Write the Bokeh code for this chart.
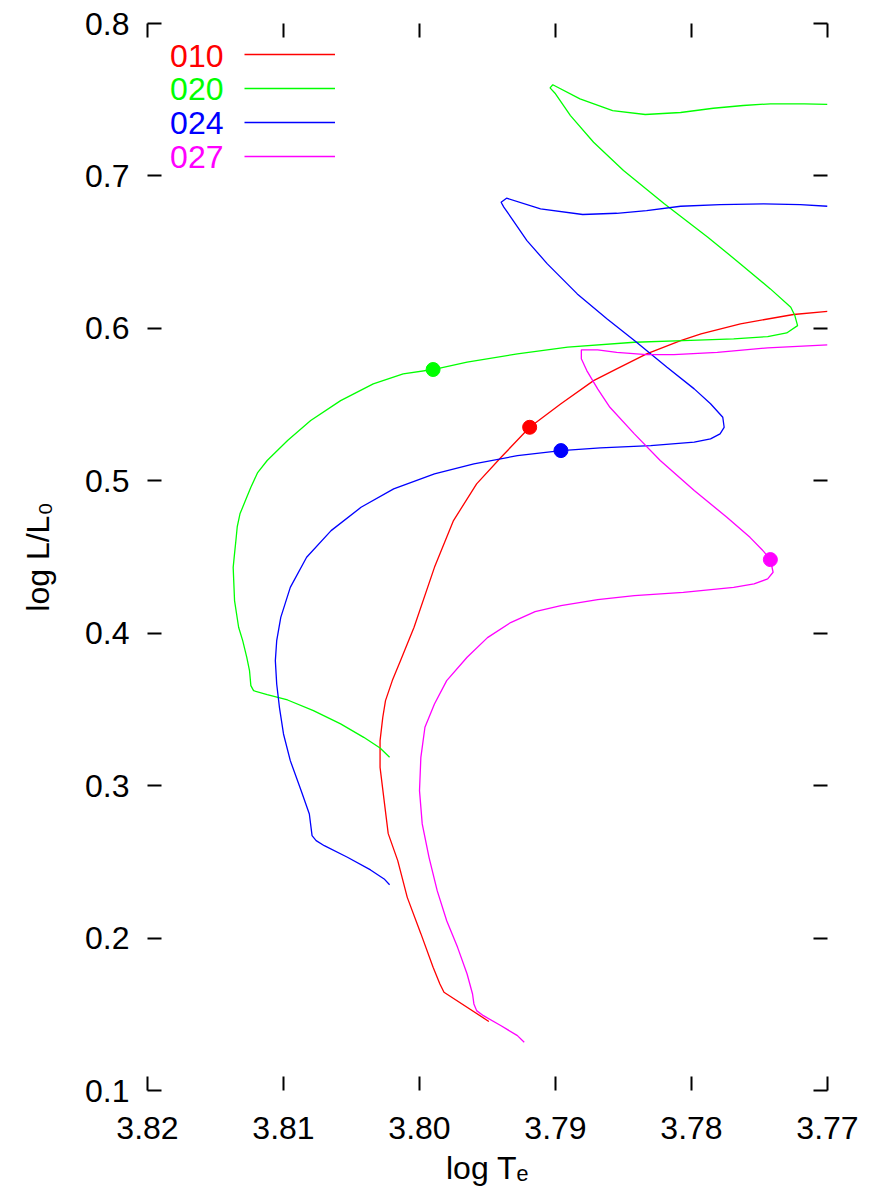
from bokeh.plotting import figure
from bokeh.models import (Range1d, FixedTicker, LinearAxis, NumeralTickFormatter, Label,
                          Legend, LegendItem)
from bokeh.embed import file_html
from bokeh.resources import INLINE

# ---------------- data ----------------
x_ticks = [3.82, 3.81, 3.80, 3.79, 3.78, 3.77]
y_ticks = [0.1, 0.2, 0.3, 0.4, 0.5, 0.6, 0.7, 0.8]

names = ["010", "020", "024", "027"]
colors = ["#ff0000", "#00ff00", "#0000ff", "#ff00ff"]

t010 = [3.7949, 3.7982, 3.7985, 3.7990, 3.7999, 3.8009, 3.8016, 3.8023, 3.8026, 3.8029,
        3.8029, 3.8027, 3.8025, 3.8020, 3.8014, 3.8004, 3.7989, 3.7975, 3.7958, 3.7940,
        3.7919, 3.7896, 3.7872, 3.7855, 3.7833, 3.7808, 3.7793, 3.7764, 3.7725, 3.7700]
l010 = [0.1453, 0.1645, 0.1699, 0.1808, 0.2029, 0.2267, 0.2508, 0.2685, 0.2902, 0.3120,
        0.3295, 0.3448, 0.3558, 0.3689, 0.3820, 0.4039, 0.4432, 0.4739, 0.4980, 0.5154,
        0.5351, 0.5505, 0.5657, 0.5734, 0.5833, 0.5920, 0.5964, 0.6030, 0.6091, 0.6112]

t020 = [3.8022, 3.8029, 3.8041, 3.8058, 3.8078, 3.8097, 3.8112, 3.8122, 3.8124, 3.8125,
        3.8127, 3.8130, 3.8133, 3.8136, 3.8137, 3.8136, 3.8135, 3.8134, 3.8132, 3.8128,
        3.8124, 3.8119, 3.8112, 3.8097, 3.8080, 3.8058, 3.8034, 3.8012, 3.7990, 3.7965,
        3.7928, 3.7891, 3.7842, 3.7806, 3.7769, 3.7744, 3.7730, 3.7722, 3.7724, 3.7727,
        3.7742, 3.7764, 3.7788, 3.7820, 3.7850, 3.7872, 3.7889, 3.7900, 3.7904, 3.7902,
        3.7882, 3.7858, 3.7834, 3.7808, 3.7784, 3.7762, 3.7742, 3.7717, 3.7700]
l020 = [0.3186, 0.3247, 0.3317, 0.3405, 0.3492, 0.3562, 0.3597, 0.3623, 0.3656, 0.3755,
        0.3842, 0.3951, 0.4039, 0.4214, 0.4432, 0.4522, 0.4608, 0.4700, 0.4783, 0.4870,
        0.4957, 0.5054, 0.5133, 0.5264, 0.5395, 0.5526, 0.5636, 0.5701, 0.5730, 0.5778,
        0.5833, 0.5877, 0.5909, 0.5920, 0.5931, 0.5946, 0.5970, 0.6018, 0.6084, 0.6138,
        0.6259, 0.6423, 0.6598, 0.6817, 0.7035, 0.7221, 0.7396, 0.7539, 0.7578, 0.7598,
        0.7506, 0.7429, 0.7403, 0.7416, 0.7444, 0.7462, 0.7473, 0.7473, 0.7470]

t024 = [3.8022, 3.8026, 3.8036, 3.8053, 3.8070, 3.8076, 3.8079, 3.8081, 3.8087, 3.8095,
        3.8100, 3.8103, 3.8105, 3.8106, 3.8105, 3.8102, 3.8095, 3.8083, 3.8065, 3.8043,
        3.8019, 3.7989, 3.7960, 3.7928, 3.7896, 3.7867, 3.7830, 3.7798, 3.7786, 3.7779,
        3.7776, 3.7777, 3.7786, 3.7798, 3.7818, 3.7842, 3.7862, 3.7884, 3.7906, 3.7921,
        3.7932, 3.7938, 3.7940, 3.7936, 3.7911, 3.7880, 3.7855, 3.7833, 3.7808, 3.7779,
        3.7747, 3.7720, 3.7700]
l024 = [0.2350, 0.2388, 0.2447, 0.2530, 0.2606, 0.2639, 0.2672, 0.2814, 0.2967, 0.3164,
        0.3339, 0.3514, 0.3667, 0.3820, 0.3951, 0.4104, 0.4301, 0.4498, 0.4673, 0.4826,
        0.4947, 0.5045, 0.5111, 0.5165, 0.5198, 0.5216, 0.5231, 0.5253, 0.5275, 0.5308,
        0.5351, 0.5417, 0.5505, 0.5603, 0.5745, 0.5920, 0.6062, 0.6226, 0.6423, 0.6576,
        0.6719, 0.6795, 0.6827, 0.6854, 0.6784, 0.6747, 0.6755, 0.6773, 0.6801, 0.6812,
        0.6817, 0.6812, 0.6801]

t027 = [3.7923, 3.7928, 3.7940, 3.7953, 3.7958, 3.7960, 3.7961, 3.7965, 3.7972, 3.7980,
        3.7987, 3.7993, 3.7998, 3.8000, 3.7999, 3.7996, 3.7989, 3.7980, 3.7965, 3.7950,
        3.7933, 3.7915, 3.7896, 3.7869, 3.7842, 3.7806, 3.7769, 3.7754, 3.7744, 3.7740,
        3.7742, 3.7747, 3.7757, 3.7774, 3.7798, 3.7823, 3.7842, 3.7860, 3.7869, 3.7877,
        3.7881, 3.7881, 3.7869, 3.7855, 3.7833, 3.7813, 3.7781, 3.7744, 3.7700]
l027 = [0.1316, 0.1360, 0.1425, 0.1491, 0.1524, 0.1568, 0.1633, 0.1764, 0.1939, 0.2114,
        0.2311, 0.2530, 0.2749, 0.2967, 0.3186, 0.3383, 0.3536, 0.3689, 0.3842, 0.3971,
        0.4070, 0.4142, 0.4181, 0.4220, 0.4247, 0.4268, 0.4301, 0.4324, 0.4356, 0.4400,
        0.4483, 0.4537, 0.4629, 0.4761, 0.4936, 0.5133, 0.5308, 0.5482, 0.5603, 0.5723,
        0.5800, 0.5859, 0.5859, 0.5843, 0.5828, 0.5828, 0.5843, 0.5872, 0.5892]

dot_t = [3.7919, 3.7990, 3.7896, 3.7742]
dot_l = [0.5351, 0.5730, 0.5198, 0.4483]

tracks_t = [t010, t020, t024, t027]
tracks_l = [l010, l020, l024, l027]

x_title = "log T\u2091"
y_title = "log L/L\u2080"

# ---------------- figure ----------------
FONT = "Liberation Sans"
FS = "32px"

p = figure(width=863, height=1197,
           x_range=Range1d(3.82, 3.77), y_range=Range1d(0.1, 0.8),
           output_backend="svg", toolbar_location=None,
           min_border_left=147, min_border_top=23,
           min_border_right=36, min_border_bottom=107)
p.grid.visible = False
p.outline_line_color = None
p.background_fill_color = "white"
p.border_fill_color = "white"

def style_axis(ax, show_labels):
    ax.axis_line_color = None
    ax.major_tick_in = 14
    ax.major_tick_out = 0
    ax.minor_tick_line_color = None
    ax.major_tick_line_width = 2
    ax.major_tick_line_color = "black"
    if show_labels:
        ax.major_label_text_font = FONT
        ax.major_label_text_font_size = FS
        ax.major_label_text_color = "black"
        ax.axis_label_text_font = FONT
        ax.axis_label_text_font_size = FS
        ax.axis_label_text_font_style = "normal"
        ax.axis_label_text_color = "black"
    else:
        ax.major_label_text_font_size = "0px"
        ax.major_label_text_color = None

p.xaxis[0].ticker = FixedTicker(ticks=x_ticks)
p.xaxis[0].formatter = NumeralTickFormatter(format="0.00")
style_axis(p.xaxis[0], True)
p.xaxis[0].major_label_standoff = 26
p.xaxis[0].axis_label = x_title
p.xaxis[0].axis_label_standoff = 8

p.yaxis[0].ticker = FixedTicker(ticks=y_ticks)
p.yaxis[0].formatter = NumeralTickFormatter(format="0.0")
style_axis(p.yaxis[0], True)
p.yaxis[0].major_label_standoff = 18
p.yaxis[0].axis_label = y_title
p.yaxis[0].axis_label_standoff = 26

top = LinearAxis(ticker=FixedTicker(ticks=x_ticks))
style_axis(top, False)
p.add_layout(top, "above")
right = LinearAxis(ticker=FixedTicker(ticks=y_ticks))
style_axis(right, False)
p.add_layout(right, "right")

renderers = []
for t, l, c in zip(tracks_t, tracks_l, colors):
    renderers.append(p.line(t, l, line_color=c, line_width=1.3))

p.scatter(dot_t, dot_l, size=14, fill_color=colors, line_color=colors, marker="circle")

# legend: text labels to the left, line samples to the right (gnuplot style)
for i, (name, c) in enumerate(zip(names, colors)):
    yy = 1035 - i * 33.7
    p.add_layout(Label(x=76, y=yy, x_units="screen", y_units="screen", text=name,
                       text_align="right", text_baseline="middle",
                       text_font=FONT, text_font_size=FS, text_color=c))

legend = Legend(items=[LegendItem(label=" ", renderers=[r]) for r in renderers],
                location=(97, 924), orientation="vertical",
                glyph_width=91, glyph_height=20, label_height=20, label_width=0,
                label_standoff=0, spacing=14, padding=0, margin=0,
                label_text_font_size="1px",
                border_line_color=None, background_fill_alpha=0.0,
                inactive_fill_alpha=0.0)
p.add_layout(legend)

open("out.html", "w").write(file_html(p, INLINE))
